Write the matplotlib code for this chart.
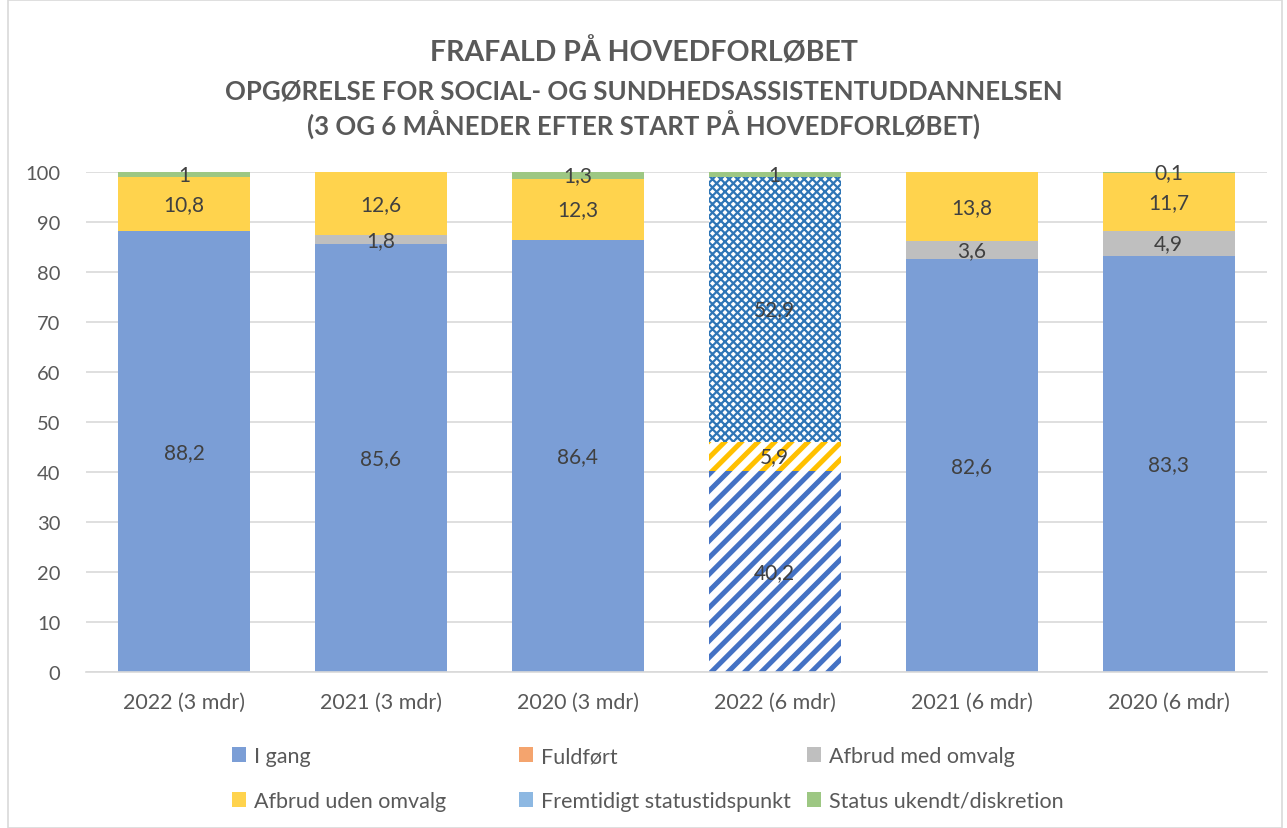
import matplotlib
matplotlib.use("Agg")
import matplotlib.pyplot as plt
from matplotlib.patches import Patch, Rectangle
import numpy as np

plt.rcParams['font.family'] = ['Lato', 'DejaVu Sans']

# Data
categories = ["2022 (3 mdr)", "2021 (3 mdr)", "2020 (3 mdr)",
              "2022 (6 mdr)", "2021 (6 mdr)", "2020 (6 mdr)"]
series_names = ["I gang", "Fuldført", "Afbrud med omvalg",
                "Afbrud uden omvalg", "Fremtidigt statustidspunkt",
                "Status ukendt/diskretion"]
i_gang = [88.2, 85.6, 86.4, 40.2, 82.6, 83.3]
fuldfort = [0, 0, 0, 0, 0, 0]
afbrud_med = [0, 1.8, 0, 0, 3.6, 4.9]
afbrud_uden = [10.8, 12.6, 12.3, 5.9, 13.8, 11.7]
fremtidigt = [0, 0, 0, 52.9, 0, 0]
status_ukendt = [1, 0, 1.3, 1, 0, 0.1]
series = [i_gang, fuldfort, afbrud_med, afbrud_uden, fremtidigt, status_ukendt]

colors = ["#7B9ED6", "#F4A46E", "#BFBFBF", "#FFD34D", "#8DB8E2", "#9DC783"]
hatch_colors = {0: "#4472C4", 3: "#FFC000", 4: "#2E75B6"}
hatched_bar = 3  # the "2022 (6 mdr)" bar is drawn with patterns

text_col = "#595959"

fig = plt.figure(figsize=(12.87, 8.29), dpi=100)
ax = fig.add_axes([0.0665, 0.188, 0.918, 0.603])

x = np.arange(len(categories))
width = 0.67
bottom = np.zeros(len(categories))

for s, vals in enumerate(series):
    vals = np.array(vals, dtype=float)
    for i in range(len(categories)):
        if vals[i] == 0:
            continue
        if i == hatched_bar and s in hatch_colors:
            lw = 1.6 if s == 4 else 3.6
            with plt.rc_context({'hatch.linewidth': lw}):
                ax.bar(x[i], vals[i], width, bottom=bottom[i], color="white",
                       edgecolor=hatch_colors[s], linewidth=0,
                       hatch="xxxx" if s == 4 else "//", zorder=2)
        else:
            ax.bar(x[i], vals[i], width, bottom=bottom[i], color=colors[s],
                   linewidth=0, zorder=2)
        ax.text(x[i], bottom[i] + vals[i] / 2, f"{vals[i]:g}".replace(".", ","),
                ha="center", va="center", fontsize=15, color="#404040", zorder=3)
    bottom += vals

ax.set_ylim(0, 100)
ax.set_xlim(-0.5, len(categories) - 0.5)
ax.set_yticks(range(0, 101, 10))
ax.yaxis.grid(True, color="#D9D9D9", linewidth=1.2)
ax.set_axisbelow(True)
for sp in ["top", "right", "left"]:
    ax.spines[sp].set_visible(False)
ax.spines["bottom"].set_color("#D9D9D9")
ax.spines["bottom"].set_linewidth(1.2)
ax.tick_params(axis="both", length=0, labelsize=14.5, colors=text_col)
ax.tick_params(axis="x", pad=14, labelsize=15.5)
ax.tick_params(axis="y", pad=18)
ax.set_xticks(x)
ax.set_xticklabels(categories)

fig.text(0.5, 0.937, "FRAFALD PÅ HOVEDFORLØBET", ha="center", va="center",
         fontsize=20.5, fontweight="bold", color=text_col)
fig.text(0.5, 0.89, "OPGØRELSE FOR SOCIAL- OG SUNDHEDSASSISTENTUDDANNELSEN",
         ha="center", va="center", fontsize=18.5, fontweight="bold", color=text_col)
fig.text(0.5, 0.849, "(3 OG 6 MÅNEDER EFTER START PÅ HOVEDFORLØBET)",
         ha="center", va="center", fontsize=18.5, fontweight="bold", color=text_col)

# legend: three equal-width columns, two rows (row-wise order)
col_x = [0.1655, 0.3885, 0.6123]
for c in range(3):
    handles = [Patch(facecolor=colors[k], label=series_names[k]) for k in (c, c + 3)]
    fig.legend(handles=handles, ncol=1, loc="upper left",
               bbox_to_anchor=(col_x[c], 0.122), frameon=False, fontsize=15.5,
               labelcolor=text_col, handlelength=0.65, handleheight=0.65,
               handletextpad=0.35, labelspacing=1.15)

fig.patches.append(Rectangle((0.006, 0.0), 0.99, 0.999, transform=fig.transFigure,
                             fill=False, edgecolor="#D9D9D9", linewidth=1.2))

fig.savefig("out.png", dpi=100)
